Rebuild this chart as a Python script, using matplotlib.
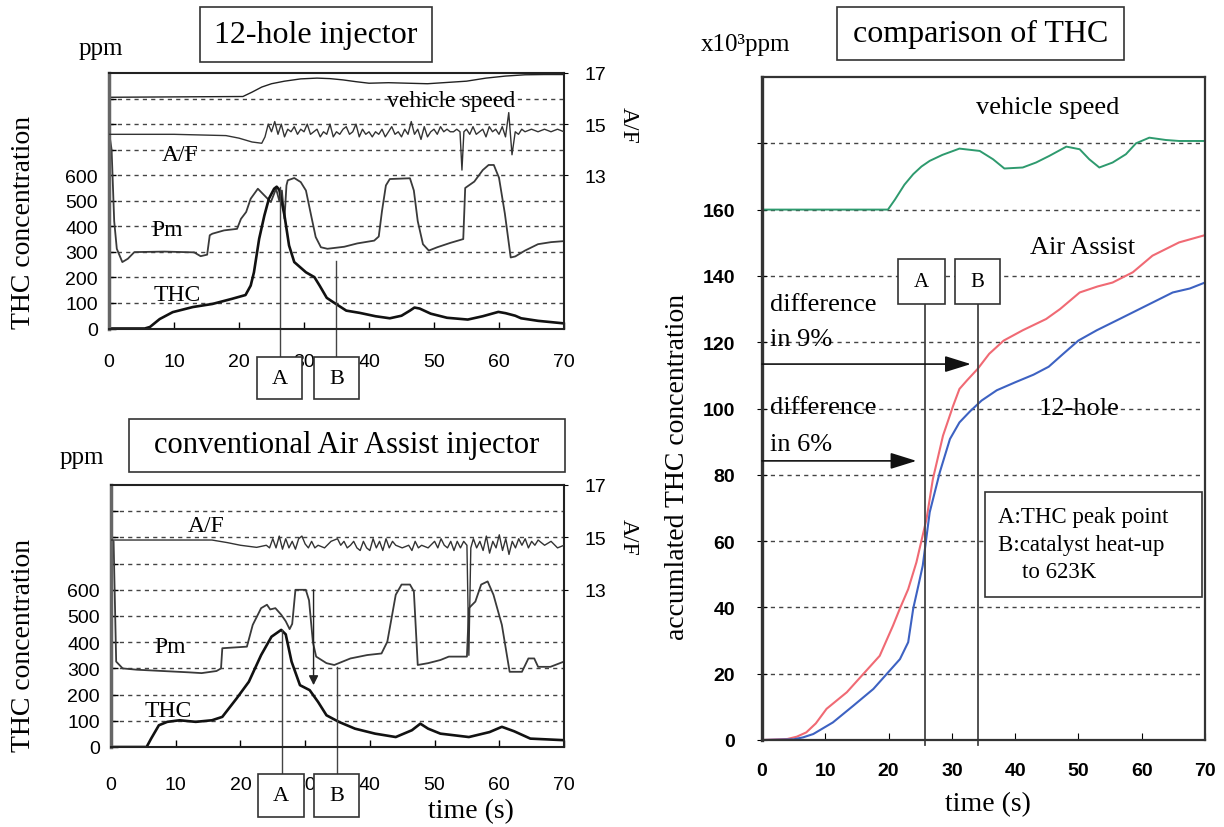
import matplotlib
matplotlib.use('Agg')
import matplotlib.pyplot as plt
from matplotlib.patches import Rectangle

W, H = 1224, 828
SERIF = ['Liberation Serif', 'DejaVu Serif']
SANS = ['Liberation Sans', 'DejaVu Sans']

# ---------------- data ----------------
time_ticks = [0, 10, 20, 30, 40, 50, 60, 70]
thc_ticks = [0, 100, 200, 300, 400, 500, 600]
af_ticks = [13, 15, 17]
acc_ticks = [0, 20, 40, 60, 80, 100, 120, 140, 160]

# 12-hole injector (top-left): (time s, value)
tl_speed = [(0, 905), (20.6, 908), (22, 925), (23.5, 945), (25, 958), (27, 968), (29.5, 977),
            (32, 980), (34, 978), (36, 973), (38, 966), (40, 960), (43, 962), (46, 960),
            (49, 958), (52, 963), (55, 968), (58, 980), (61, 988), (64, 993), (67, 994), (70, 994)]
tl_af = [(0, 14.6), (10, 14.6), (18, 14.55), (20, 14.45), (22, 14.3), (23.5, 14.25), (24, 14.5),
         (24.5, 15.0), (25, 14.7), (25.5, 15.1), (26, 14.6), (26.5, 15.0), (27, 14.5), (27.5, 14.8),
         (28, 14.7), (28.5, 14.9), (29, 14.6), (29.5, 14.8), (30, 14.7), (30.5, 15.0), (31, 14.6),
         (31.5, 14.7), (32, 14.8), (32.5, 14.5), (33, 14.7), (33.5, 14.6), (34, 15.0), (34.5, 14.5),
         (35, 14.7), (35.5, 14.6), (36, 14.8), (36.5, 14.9), (37, 14.6), (37.5, 14.7), (38, 15.0),
         (38.5, 14.5), (39, 14.8), (39.5, 14.6), (40, 14.7), (40.5, 14.5), (41, 14.7), (41.5, 14.6),
         (42, 14.8), (42.5, 14.5), (43, 14.7), (43.5, 14.9), (44, 14.6), (44.5, 14.7), (45, 14.5),
         (45.5, 14.8), (46, 14.6), (46.5, 15.1), (47, 14.6), (47.5, 14.8), (48, 14.4), (48.5, 14.9),
         (49, 14.5), (49.5, 14.7), (50, 14.8), (50.5, 14.6), (51, 14.9), (51.5, 14.7), (52, 14.8),
         (52.5, 14.7), (53, 14.7), (53.5, 14.8), (54, 14.7), (54.3, 13.2), (54.6, 14.7), (55, 14.8),
         (55.5, 14.6), (56, 14.9), (56.5, 14.6), (57, 14.7), (57.5, 14.8), (58, 14.5), (58.5, 14.9),
         (59, 14.7), (59.5, 14.8), (60, 14.6), (60.5, 14.9), (61, 14.5), (61.5, 15.45), (62, 13.8),
         (62.5, 14.7), (63, 14.6), (63.5, 14.8), (64, 14.7), (65, 14.8), (66, 14.7), (67, 14.8),
         (68, 14.7), (69, 14.8), (70, 14.7)]
tl_pm = [(0, 770), (0.4, 700), (0.8, 420), (1.2, 312), (2.05, 260), (2.9, 273), (3.9, 299),
         (8.5, 301), (13.1, 298), (14.1, 283), (15.1, 289), (15.5, 365), (15.9, 371), (17.7, 384),
         (19.7, 390), (20.3, 429), (21.1, 456), (21.8, 508), (22.9, 547), (23.9, 521), (24.9, 495),
         (25.7, 547), (26.2, 500), (26.6, 540), (27.0, 430), (27.3, 560), (27.5, 580), (28.5, 589),
         (29.5, 573), (30.3, 540), (31.1, 442), (31.8, 358), (32.6, 318), (33.6, 312), (36.2, 320),
         (38.2, 333), (40.8, 344), (41.5, 360), (42, 460), (42.6, 560), (43.2, 585), (46.3, 588),
         (46.9, 540), (47.5, 420), (48.3, 330), (49.2, 305), (50.5, 318), (52.5, 335), (54.5, 350),
         (54.8, 550), (56.2, 575), (57.5, 620), (58.4, 640), (59.2, 640), (60, 590), (60.9, 450),
         (61.8, 278), (62.5, 282), (64, 305), (66, 330), (68, 338), (70, 342)]
tl_thc = [(0, 0), (5.5, 0), (6.3, 6), (7.8, 37), (9.8, 64), (12.9, 84), (15.9, 96), (18.9, 116),
          (21, 131), (21.8, 168), (22.3, 220), (23.1, 351), (23.9, 442), (24.6, 508), (25.4, 547),
          (25.8, 555), (26.2, 543), (27, 442), (27.7, 325), (28.5, 260), (30.3, 220), (31.6, 201),
          (32.4, 168), (33.5, 120), (34.5, 103), (36.5, 70), (38.6, 61), (41, 48), (43.2, 40),
          (45, 50), (46.3, 70), (47, 82), (47.8, 78), (49.5, 58), (52, 42), (55.2, 35), (57.5, 48),
          (59.9, 65), (61, 60), (62.5, 50), (63.4, 40), (66, 30), (68, 25), (70, 20)]

# conventional Air Assist injector (bottom-left)
bl_af = [(0, 14.9), (15.6, 14.9), (18, 14.8), (20, 14.7), (22.5, 14.62), (24, 14.7), (24.5, 14.6),
         (25, 14.95), (25.5, 14.6), (26, 15.05), (26.5, 14.55), (27, 14.95), (27.5, 14.6),
         (28, 14.85), (28.5, 14.55), (29, 14.95), (29.5, 15.05), (30, 14.75), (30.5, 14.6),
         (31, 14.85), (31.5, 14.6), (32, 14.7), (33, 14.6), (34, 14.85), (35, 14.95), (35.5, 14.7),
         (36, 14.85), (36.5, 14.6), (37, 14.7), (37.5, 14.85), (38, 14.6), (38.5, 14.5), (39, 14.85),
         (39.5, 14.6), (40, 14.5), (40.5, 14.95), (41, 14.6), (41.5, 14.85), (42, 14.5), (42.5, 14.95),
         (43, 14.6), (43.5, 14.85), (44, 14.7), (45, 14.6), (46, 14.7), (46.5, 14.5), (47, 14.85),
         (47.5, 14.6), (48, 14.7), (49, 14.6), (50, 14.85), (50.5, 14.6), (51, 14.95), (51.5, 14.7),
         (52, 14.6), (52.5, 14.85), (53, 14.5), (53.5, 14.85), (54, 14.6), (54.5, 14.85), (55, 14.7),
         (55.3, 10.5), (55.6, 14.6), (56, 14.95), (56.5, 14.6), (57, 14.85), (57.5, 14.5),
         (58, 15.05), (58.5, 14.4), (59, 14.85), (59.5, 14.6), (60, 15.1), (60.5, 14.5), (61, 14.95),
         (61.5, 14.35), (62, 14.85), (62.5, 14.6), (63, 14.95), (63.5, 14.7), (64, 14.95),
         (64.5, 14.6), (65, 14.85), (65.5, 14.7), (66, 14.9), (67, 14.7), (68, 14.85), (69, 14.6),
         (70, 14.7)]
bl_pm = [(0, 790), (0.4, 785), (0.8, 326), (1.8, 300), (4, 295), (8, 290), (12, 285), (14, 282),
         (16.3, 290), (17.0, 300), (17.2, 377), (21, 383), (21.9, 466), (23.2, 530), (24.1, 543),
         (24.6, 525), (25.4, 530), (26.3, 505), (27, 480), (27.6, 450), (28.0, 470), (28.5, 600),
         (30.1, 600), (30.6, 560), (31.2, 400), (31.7, 345), (33.3, 320), (34.5, 313), (37, 338),
         (39.6, 351), (41.8, 357), (42.7, 402), (44, 581), (44.9, 620), (46.2, 620), (46.8, 594),
         (47.4, 313), (49, 320), (50.9, 332), (52.2, 345), (55, 345), (55.3, 530), (56.3, 555),
         (57.2, 620), (58.2, 632), (59.1, 581), (60.4, 466), (61.6, 287), (63.5, 287), (64.5, 338),
         (65.4, 338), (66, 306), (67.9, 306), (70, 326)]
bl_thc = [(0, 0), (5.5, 0), (6.2, 32), (7.4, 83), (8.7, 96), (10.6, 102), (13.1, 96), (15.6, 102),
          (17.2, 115), (19.4, 185), (21.3, 249), (23.2, 351), (24.8, 421), (26.3, 447), (27, 430),
          (27.9, 326), (29.2, 236), (30.7, 217), (32, 172), (33.3, 121), (35.2, 96), (37.7, 70),
          (40.8, 51), (44, 38), (46.5, 64), (47.8, 89), (49, 70), (50.9, 51), (55.3, 38),
          (58.5, 57), (60.4, 77), (62.3, 60), (64.8, 32), (70, 26)]

# comparison of THC (right): accumulated THC (x10^3 ppm)
air_assist = [(0, 0), (4, 0.3), (5.5, 1.0), (7.0, 2.3), (8.5, 5.0), (10.2, 9.4), (13.4, 14.4),
              (16.0, 19.9), (18.6, 25.4), (20.7, 34.5), (21.8, 39.7), (23.1, 45.5), (24.4, 53.6),
              (26.0, 66.7), (27.0, 78.7), (28.6, 91.8), (30.2, 100.8), (31.2, 105.9), (32.4, 108.5),
              (34.1, 112.0), (35.9, 116.5), (38.2, 120.5), (41.2, 123.6), (44.9, 127.0),
              (47.1, 130.0), (50.2, 135.0), (53, 136.8), (55.4, 138.0), (58.6, 141.1),
              (61.7, 146.1), (65.9, 150.1), (70, 152.3)]
twelve_hole = [(0, 0), (5, 0.2), (6.5, 0.8), (8.1, 1.8), (11.2, 5.3), (14.4, 10.3), (17.6, 15.4),
               (19.7, 19.9), (21.8, 24.4), (23.1, 29.5), (23.9, 39.7), (24.7, 46.5), (25.4, 52.6),
               (26.5, 68.7), (28.1, 80.8), (29.7, 90.8), (31.2, 95.8), (32.9, 99.2), (34.7, 102.4),
               (37.1, 105.5), (40, 107.9), (42.9, 110.2), (45.3, 112.6), (47.6, 116.5), (50, 120.5),
               (52.9, 123.6), (56.5, 127.0), (60.7, 131.0), (64.9, 135.0), (67.6, 136.2), (70, 138.0)]
r_speed = [(0, 160), (19.9, 160), (21, 163), (22.5, 167.5), (23.9, 170.7), (25.2, 173),
           (26.5, 174.7), (28.5, 176.5), (31.2, 178.4), (34.4, 177.7), (36.5, 175.2), (38.3, 172.4),
           (41.2, 172.7), (43.3, 174.2), (45.4, 176.2), (48.1, 179), (50.2, 178.2), (51.7, 175.2),
           (53.3, 172.7), (55.4, 174.2), (57.5, 176.7), (59.1, 180), (61.2, 181.7), (63.8, 181),
           (65.9, 180.7), (70, 180.7)]


def xy(series):
    t, v = zip(*series)
    return list(t), list(v)


# ---------------- figure ----------------
fig = plt.figure(figsize=(W / 100, H / 100), dpi=100)
fig.patch.set_facecolor('white')


def rect_px(x0, y0, x1, y1):
    return [x0 / W, 1 - y1 / H, (x1 - x0) / W, (y1 - y0) / H]


def fbox(x0, y0, x1, y1, lw=1.2, color='#333333'):
    r = Rectangle((x0 / W, 1 - y1 / H), (x1 - x0) / W, (y1 - y0) / H,
                  transform=fig.transFigure, facecolor='white', edgecolor=color,
                  lw=lw, zorder=5)
    fig.add_artist(r)


def ftext(x, y, s, size, rot=0, ha='center', va='center', family=SERIF, weight='normal'):
    fig.text(x / W, 1 - y / H, s, fontsize=size, rotation=rot, ha=ha, va=va,
             family=family, weight=weight, zorder=6)


GRID = dict(color='#444444', lw=1.0, linestyle=(0, (3, 3)))


def left_panel(rect, xpad):
    ax = fig.add_axes(rect)
    ax.set_xlim(0, 70)
    ax.set_ylim(0, 1000)
    ax.set_xticks(time_ticks)
    ax.set_xticklabels([str(t) for t in time_ticks], family=SANS, fontsize=14)
    yt = list(range(0, 1000, 100))
    ax.set_yticks(yt)
    ax.set_yticklabels([str(v) if v in thc_ticks else '' for v in yt], family=SANS, fontsize=14)
    ax.tick_params(axis='x', direction='in', length=5, pad=xpad, width=1)
    ax.tick_params(axis='y', direction='in', length=5, pad=8, width=1)
    for v in yt[1:]:
        ax.axhline(v, zorder=0.5, **GRID)
    for s in ax.spines.values():
        s.set_linewidth(1.5)
        s.set_color('#222222')
    ax.spines['left'].set_linewidth(2.5)
    ax.spines['left'].set_color('#666666')
    ax2 = ax.twinx()
    ax2.set_ylim(7, 17)
    ax2.set_yticks(af_ticks)
    ax2.set_yticklabels([str(v) for v in af_ticks], family=SANS, fontsize=14)
    ax2.tick_params(axis='y', direction='out', length=3, pad=12)
    for s in ax2.spines.values():
        s.set_visible(False)
    return ax, ax2


# ---- top-left: 12-hole injector ----
ax, ax2 = left_panel(rect_px(109, 74, 564, 329.5), 18)
t, v = xy(tl_speed); ax.plot(t, v, color='#222222', lw=1.0)
t, v = xy(tl_pm); ax.plot(t, v, color='#3a3a3a', lw=1.3)
t, v = xy(tl_thc); ax.plot(t, v, color='#111111', lw=1.9)
t, v = xy(tl_af); ax2.plot(t, v, color='#333333', lw=1.0)
ax.text(52.6, 891, 'vehicle speed', family=SERIF, fontsize=17, ha='center', va='center')
ax.text(11, 680, 'A/F', family=SERIF, fontsize=17, ha='center', va='center')
ax.text(9, 386, 'Pm', family=SERIF, fontsize=17, ha='center', va='center')
ax.text(10.5, 132, 'THC', family=SERIF, fontsize=17, ha='center', va='center')
ax.plot([26.3, 26.3], [-112, 555], color='#444444', lw=1.0, clip_on=False)
ax.plot([34.85, 34.85], [-112, 266], color='#444444', lw=1.0, clip_on=False)
fbox(200, 8, 432, 63)
ftext(316, 36, '12-hole injector', 23)
ftext(101, 49, 'ppm', 18)
ftext(24, 222, 'THC concentration', 20, rot=90)
ftext(628, 125, 'A/F', 17, rot=270)
fbox(257, 358, 302, 400)
ftext(279.5, 379, 'A', 16)
fbox(314, 358, 359, 400)
ftext(336.5, 379, 'B', 16)

# ---- bottom-left: conventional Air Assist injector ----
ax, ax2 = left_panel(rect_px(111, 486, 564, 748), 21)
t, v = xy(bl_pm); ax.plot(t, v, color='#3a3a3a', lw=1.3)
t, v = xy(bl_thc); ax.plot(t, v, color='#111111', lw=1.9)
t, v = xy(bl_af); ax2.plot(t, v, color='#333333', lw=1.0)
ax.text(14.7, 845, 'A/F', family=SERIF, fontsize=17, ha='center', va='center')
ax.text(9.2, 382, 'Pm', family=SERIF, fontsize=17, ha='center', va='center')
ax.text(8.8, 139, 'THC', family=SERIF, fontsize=17, ha='center', va='center')
ax.plot([26.4, 26.4], [-103, 447], color='#444444', lw=1.0, clip_on=False)
ax.plot([34.9, 34.9], [-103, 306], color='#444444', lw=1.0, clip_on=False)
ax.annotate('', xy=(31.3, 236), xytext=(31.3, 600),
            arrowprops=dict(arrowstyle='-|>', color='#222222', lw=1.0, mutation_scale=14,
                            shrinkA=0, shrinkB=0))
fbox(129, 420, 565, 473)
ftext(347, 446, 'conventional Air Assist injector', 22)
ftext(82, 458, 'ppm', 18)
ftext(24, 645, 'THC concentration', 20, rot=90)
ftext(628, 537, 'A/F', 17, rot=270)
fbox(258, 775, 304, 818)
ftext(281, 796.5, 'A', 16)
fbox(314, 775, 359, 818)
ftext(336.5, 796.5, 'B', 16)
ftext(471, 812, 'time (s)', 20)

# ---- right: comparison of THC ----
ax = fig.add_axes(rect_px(762, 78, 1205, 741))
ax.set_xlim(0, 70)
ax.set_ylim(0, 200)
ax.set_xticks(time_ticks)
ax.set_xticklabels([str(t) for t in time_ticks], family=SANS, fontsize=14, weight='bold')
yt = list(range(0, 200, 20))
ax.set_yticks(yt)
ax.set_yticklabels([str(v) if v in acc_ticks else '' for v in yt], family=SANS, fontsize=14,
                   weight='bold')
ax.tick_params(axis='x', direction='in', length=5, pad=16)
ax.tick_params(axis='y', direction='inout', length=7, pad=16)
for v in yt[1:]:
    ax.axhline(v, zorder=0.5, **GRID)
for s in ax.spines.values():
    s.set_linewidth(1.6)
    s.set_color('#333333')
ax.spines['left'].set_linewidth(2.4)
t, v = xy(r_speed); ax.plot(t, v, color='#2e9a6e', lw=1.4)
t, v = xy(air_assist); ax.plot(t, v, color='#f06a74', lw=1.5)
t, v = xy(twelve_hole); ax.plot(t, v, color='#3d62c2', lw=1.5)
ax.plot([25.7, 25.7], [-1.5, 131.5], color='#444444', lw=1.3, clip_on=False)
ax.plot([34.1, 34.1], [-1.5, 131.5], color='#444444', lw=1.3, clip_on=False)
ax.text(45.1, 191, 'vehicle speed', family=SERIF, fontsize=19, ha='center', va='center')
ax.text(50.6, 148.7, 'Air Assist', family=SERIF, fontsize=19, ha='center', va='center')
ax.text(50.1, 100.2, '12-hole', family=SERIF, fontsize=19, ha='center', va='center')
ax.text(1.2, 131.5, 'difference', family=SERIF, fontsize=19, ha='left', va='center')
ax.text(1.2, 121.0, 'in 9%', family=SERIF, fontsize=19, ha='left', va='center')
ax.text(1.2, 100.4, 'difference', family=SERIF, fontsize=19, ha='left', va='center')
ax.text(1.2, 89.3, 'in 6%', family=SERIF, fontsize=19, ha='left', va='center')
arrow = dict(arrowstyle='-|>,head_length=0.8,head_width=0.25', color='#111111', lw=1.2,
             mutation_scale=20, shrinkA=0, shrinkB=0)
ax.annotate('', xy=(33.0, 113.4), xytext=(0, 113.4), arrowprops=arrow)
ax.annotate('', xy=(24.4, 84.2), xytext=(0, 84.2), arrowprops=arrow)
fbox(898, 260, 945, 305)
ftext(921.5, 282.5, 'A', 15)
fbox(955, 260, 1000, 305)
ftext(977.5, 282.5, 'B', 15)
fbox(985, 493, 1202, 598)
ftext(998, 517, 'A:THC peak point', 16.5, ha='left')
ftext(998, 545, 'B:catalyst heat-up', 16.5, ha='left')
ftext(1022, 573, 'to 623K', 16.5, ha='left')
fbox(837, 8, 1124, 61)
ftext(980.5, 34.5, 'comparison of THC', 23)
ftext(746, 45, 'x10³ppm', 18)
ftext(678, 467, 'accumlated THC concentration', 20, rot=90)
ftext(988, 805, 'time (s)', 20)

fig.savefig('out.png', dpi=100, facecolor='white')
